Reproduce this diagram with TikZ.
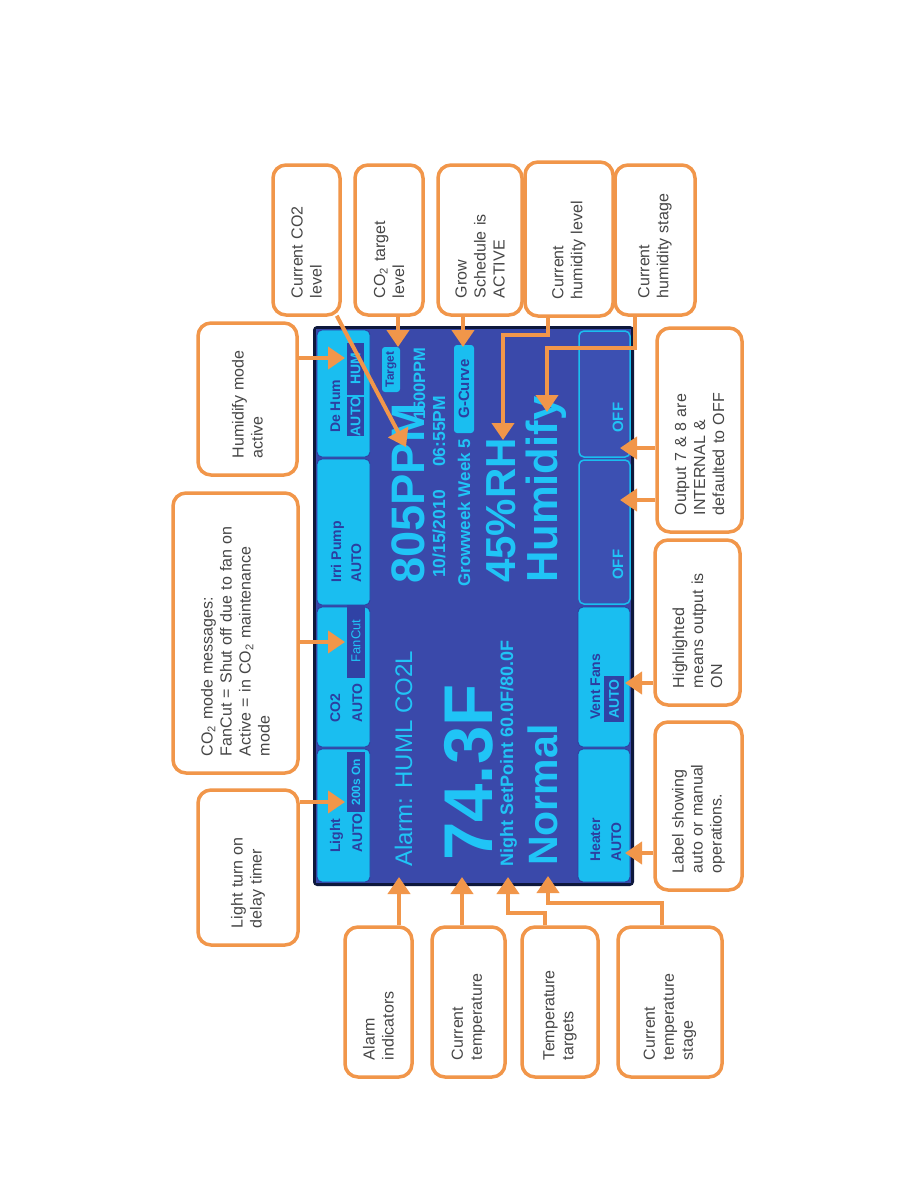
\documentclass[tikz,border=0pt]{standalone}
\usepackage{fontspec}
\setmainfont{Liberation Sans}
\usetikzlibrary{arrows.meta,calc}
\definecolor{org}{RGB}{241,150,74}
\definecolor{cgray}{RGB}{70,70,70}
\definecolor{scrblue}{RGB}{58,73,170}
\definecolor{scrdark}{RGB}{14,24,60}
\definecolor{cyanbtn}{RGB}{26,190,240}
\definecolor{cyantxt}{RGB}{32,196,246}
\definecolor{darktxt}{RGB}{44,62,160}
\definecolor{hlbox}{RGB}{48,66,165}
\definecolor{offfill}{RGB}{60,80,178}
\begin{document}
\begin{tikzpicture}[x=1pt,y=-1pt,
  callout/.style={draw=org, line width=3.5pt, fill=white, rounded corners=13pt, rotate=90, align=left, inner xsep=17pt, inner ysep=0pt, font=\fontsize{16}{19}\selectfont, text=cgray},
  arr/.style={draw=org, line width=4pt, -{Triangle[width=22pt,length=17pt]}},
  scrtxt/.style={rotate=90, anchor=base west, inner sep=0pt, text=cyantxt},
  btntxt/.style={rotate=90, anchor=base west, inner sep=0pt, text=darktxt, font=\fontsize{14}{14}\selectfont\bfseries},
  hltxt/.style={rotate=90, inner sep=0pt, text=cyantxt},
  btnbox/.style={fill=cyanbtn, draw=darktxt, line width=0.8pt, rounded corners=5pt},
  offbox/.style={fill=offfill, draw=cyanbtn, line width=1.5pt, rounded corners=5pt},
]
\fill[white] (0,0) rectangle (918,1188);
\useasboundingbox (0,0) rectangle (918,1188);

% screen
\fill[scrdark, rounded corners=4pt] (313,326) rectangle (634,886);
\fill[scrblue] (316,329) rectangle (631,883);
\draw[btnbox] (317,330) rectangle (370,457);
\draw[btnbox] (317,459) rectangle (370,605);
\draw[btnbox] (317,607) rectangle (370,747);
\draw[btnbox] (317,749) rectangle (370,882);
\draw[offbox] (579,331) rectangle (630,457);
\draw[offbox] (579,460) rectangle (630,604);
\draw[btnbox] (578,607) rectangle (630,747);
\draw[btnbox] (578,749) rectangle (630,882);

\fill[hlbox] (347,397) rectangle (364,436);
\fill[hlbox] (347,343) rectangle (364,395);
\fill[hlbox] (347,752) rectangle (365,812);
\fill[hlbox] (347,605) rectangle (365,678);
\fill[hlbox] (604,676) rectangle (624,722);
\fill[cyanbtn, rounded corners=3pt] (382,347) rectangle (400,392);
\fill[cyanbtn, rounded corners=3pt] (454,345) rectangle (474,433);

% button texts
\node[btntxt] (bl1) at (340,853) {Light};
\node[btntxt] (bl2) at (362,853) {AUTO};
\node[hltxt, font=\fontsize{12}{12}\selectfont\bfseries] (bl3) at (356,782) {200s On};
\node[btntxt] (bc1) at (340,723) {CO2};
\node[btntxt] (bc2) at (362,723) {AUTO};
\node[hltxt, font=\fontsize{13}{13}\selectfont] (bc3) at (356,641) {FanCut};
\node[btntxt] (bi1) at (341,583) {Irri Pump};
\node[btntxt] (bi2) at (361,583) {AUTO};
\node[btntxt] (bd1) at (340,433) {De Hum};
\node[hltxt, font=\fontsize{14}{14}\selectfont\bfseries] (bd2) at (355.5,416.5) {AUTO};
\node[hltxt, font=\fontsize{14}{14}\selectfont\bfseries] (bd3) at (355.5,369) {HUM};
\node[scrtxt, font=\fontsize{15}{15}\selectfont\bfseries] (bo1) at (623,433) {OFF};
\node[scrtxt, font=\fontsize{15}{15}\selectfont\bfseries] (bo2) at (623,580) {OFF};
\node[btntxt] (bv1) at (600,720) {Vent Fans};
\node[hltxt, font=\fontsize{14}{14}\selectfont\bfseries] (bv2) at (614,699) {AUTO};
\node[btntxt] (bh1) at (600,862) {Heater};
\node[btntxt] (bh2) at (621,862) {AUTO};

% main display texts
\node[scrtxt, font=\fontsize{24}{24}\selectfont] (alarmtxt) at (412,867) {Alarm: HUML CO2L};
\node[scrtxt, font=\fontsize{69}{69}\selectfont\bfseries] (temptxt) at (492,861) {74.3F};
\node[scrtxt, font=\fontsize{18}{18}\selectfont\bfseries] (nighttxt) at (513,867) {Night SetPoint 60.0F/80.0F};
\node[scrtxt, font=\fontsize{41}{41}\selectfont\bfseries] (normaltxt) at (557,866) {Normal};
\node[scrtxt, font=\fontsize{47}{47}\selectfont\bfseries] (ppmtxt) at (424,584) {805PPM};
\node[rotate=90, inner sep=0pt, text=darktxt, font=\fontsize{12}{12}\selectfont\bfseries] (targettxt) at (391,369.5) {Target};
\node[scrtxt, font=\fontsize{16.5}{16.5}\selectfont\bfseries] (tgtppm) at (425,420) {1500PPM};
\node[scrtxt, font=\fontsize{17.5}{17.5}\selectfont\bfseries] (datetxt) at (445,578) {10/15/2010};
\node[scrtxt, font=\fontsize{17.5}{17.5}\selectfont\bfseries] (timetxt) at (445,467) {06:55PM};
\node[scrtxt, font=\fontsize{17}{17}\selectfont\bfseries] (growtxt) at (470,587) {Growweek Week 5};
\node[rotate=90, inner sep=0pt, text=darktxt, font=\fontsize{15}{15}\selectfont\bfseries] (gcurve) at (464,389) {G-Curve};
\node[scrtxt, font=\fontsize{42}{42}\selectfont\bfseries] (rhtxt) at (515,583) {45\%RH};
\node[scrtxt, font=\fontsize{43.5}{43.5}\selectfont\bfseries] (humtxt) at (557,583) {Humidify};

% callouts
\node[callout, minimum width=155pt, minimum height=100pt, text width=121pt] (clight) at (248,867.5) {Light turn on\\delay timer};
\node[callout, minimum width=280pt, minimum height=125pt, text width=246pt] (cco2) at (235.5,633) {CO\textsubscript{2} mode messages:\\FanCut = Shut off due to fan on\\Active = in CO\textsubscript{2} maintenance\\mode};
\node[callout, minimum width=152pt, minimum height=99pt, text width=118pt] (chum) at (247.5,399) {Humidify mode\\active};
\node[callout, minimum width=150pt, minimum height=67pt, text width=116pt] (cco2lvl) at (306.5,240) {Current CO2\\level};
\node[callout, minimum width=150pt, minimum height=68pt, text width=116pt] (ctarget) at (389,240) {CO\textsubscript{2} target\\level};
\node[callout, minimum width=150pt, minimum height=84pt, text width=116pt] (cgrow) at (480,240) {Grow\\Schedule is\\ACTIVE};
\node[callout, minimum width=154pt, minimum height=88pt, text width=120pt] (chumlvl) at (569,239) {Current\\humidity level};
\node[callout, minimum width=150pt, minimum height=80pt, text width=116pt] (chumstg) at (655,240) {Current\\humidity stage};
\node[callout, minimum width=204pt, minimum height=85pt, text width=170pt] (cout) at (699.5,430) {Output 7 \& 8 are\\INTERNAL \&\\defaulted to OFF};
\node[callout, minimum width=165pt, minimum height=85pt, text width=131pt] (chigh) at (697.5,622.5) {Highlighted\\means output is\\ON};
\node[callout, minimum width=168pt, minimum height=87pt, text width=134pt] (clabel) at (698.5,806) {Label showing\\auto or manual\\operations.};
\node[callout, minimum width=150pt, minimum height=67pt, text width=116pt] (calarm) at (378.5,1002) {Alarm\\indicators};
\node[callout, minimum width=150pt, minimum height=73pt, text width=116pt] (ctemp) at (468.5,1002) {Current\\temperature};
\node[callout, minimum width=150pt, minimum height=76pt, text width=116pt] (ctargets) at (560,1002) {Temperature\\targets};
\node[callout, minimum width=150pt, minimum height=104pt, text width=116pt] (cstage) at (670,1002) {Current\\temperature\\stage};

% connector end points
\coordinate (tLight) at (345,802);
\coordinate (tCO2) at (345,642);
\coordinate (tHM) at (345,358);
\coordinate (tPPM) at (406,447);
\coordinate (tTgt) at (398,347);
\coordinate (tGrow) at (463,347);
\coordinate (tRH) at (503,440);
\coordinate (tHumid) at (547,412);
\coordinate (tOff1) at (620,448);
\coordinate (tOff2) at (620,500);
\coordinate (tVent) at (625,683);
\coordinate (tHeat) at (625,853);
\coordinate (tAlarm) at (399,877);
\coordinate (tTemp) at (462,877);
\coordinate (tNight) at (508,877);
\coordinate (tNormal) at (548,876);
\coordinate (hlA) at (548,0);
\coordinate (hsA) at (635,0);
\coordinate (ttA) at (545,0);
\coordinate (tsA) at (662,0);

% connectors
\draw[arr] (tLight -| clight.south) -- (tLight);
\draw[arr] (tCO2 -| cco2.south) -- (tCO2);
\draw[arr] (tHM -| chum.south) -- (tHM);
\draw[arr] ($(cco2lvl.south west)+(-5,-1)$) -- (tPPM);
\draw[arr] (tTgt |- ctarget.west) -- (tTgt);
\draw[arr] (tGrow |- cgrow.west) -- (tGrow);
\draw[arr] (hlA |- chumlvl.west) -- (548,335) -- (503,335) -- (tRH);
\draw[arr] (hsA |- chumstg.west) -- (635,348) -- (547,348) -- (tHumid);
\draw[arr] (tOff1 -| cout.north) -- (tOff1);
\draw[arr] (tOff2 -| cout.north) -- (tOff2);
\draw[arr] (tVent -| chigh.north) -- (tVent);
\draw[arr] (tHeat -| clabel.north) -- (tHeat);
\draw[arr] (tAlarm |- calarm.east) -- (tAlarm);
\draw[arr] (tTemp |- ctemp.east) -- (tTemp);
\draw[arr] (ttA |- ctargets.east) -- (545,913) -- (508,913) -- (tNight);
\draw[arr] (tsA |- cstage.east) -- (662,903) -- (548,903) -- (tNormal);
\end{tikzpicture}
\end{document}
